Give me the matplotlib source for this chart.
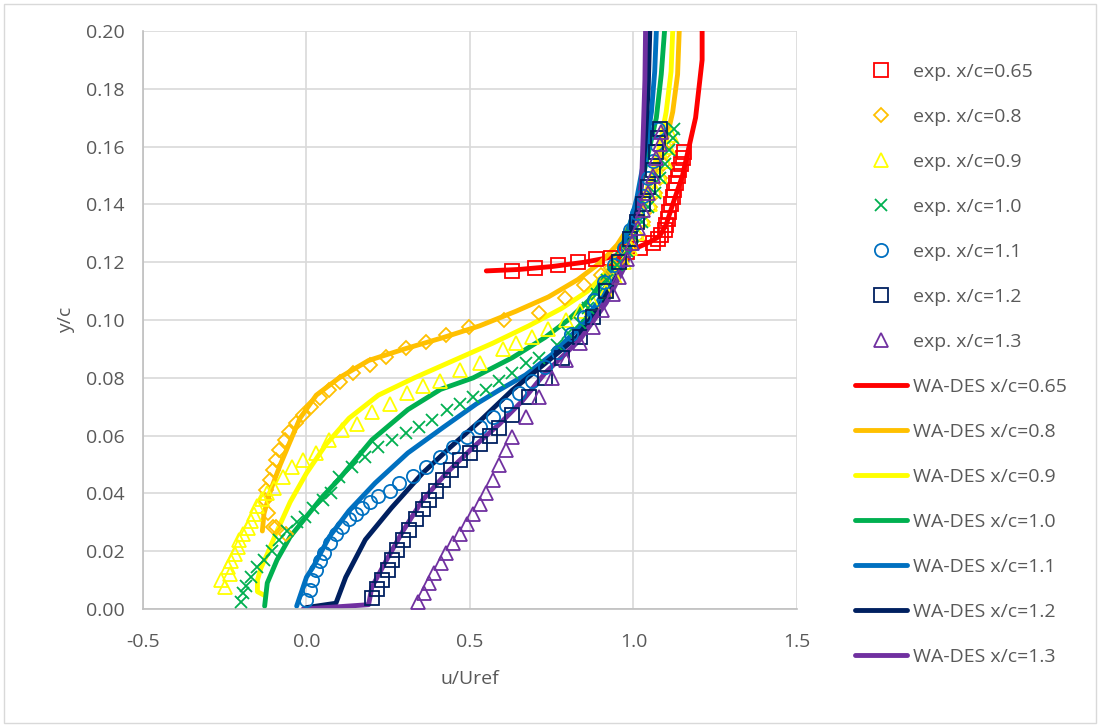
import matplotlib.pyplot as plt
from matplotlib.patches import Rectangle

plt.rcParams['font.family'] = ['Open Sans', 'DejaVu Sans']

# ---- datos experimentales (u/Uref, y/c) ----
exp065_u = [0.63, 0.70, 0.77, 0.83, 0.886, 0.93, 0.98, 1.02, 1.06, 1.075, 1.085, 1.095, 1.10, 1.105,
            1.11, 1.115, 1.12, 1.125, 1.13, 1.135, 1.14, 1.145, 1.15, 1.155]
exp065_y = [0.117, 0.118, 0.119, 0.120, 0.121, 0.1215, 0.1235, 0.125, 0.1265, 0.128, 0.1295, 0.131,
            0.133, 0.135, 0.1375, 0.140, 0.1425, 0.145, 0.1475, 0.150, 0.152, 0.154, 0.156, 0.158]

exp08_u = [-0.062, -0.093, -0.103, -0.118, -0.128, -0.123, -0.113, -0.103, -0.093, -0.083, -0.067,
           -0.052, -0.031, -0.011, 0.014, 0.040, 0.070, 0.101, 0.142, 0.193, 0.244, 0.305, 0.366,
           0.427, 0.498, 0.605, 0.71, 0.79, 0.85, 0.90, 0.93, 0.96, 0.99, 1.01, 1.03, 1.05, 1.065,
           1.08, 1.09, 1.10, 1.11]
exp08_y = [0.026, 0.0285, 0.0285, 0.0331, 0.0377, 0.0412, 0.0446, 0.0481, 0.0516, 0.055, 0.0585,
           0.0614, 0.0643, 0.0671, 0.070, 0.0729, 0.0758, 0.0787, 0.0816, 0.0844, 0.0873, 0.0902,
           0.0925, 0.0948, 0.0977, 0.100, 0.1025, 0.1076, 0.112, 0.1156, 0.118, 0.121, 0.125, 0.129,
           0.134, 0.139, 0.144, 0.149, 0.154, 0.158, 0.162]

exp09_u = [-0.25, -0.26, -0.235, -0.24, -0.23, -0.22, -0.21, -0.205, -0.195, -0.18, -0.17, -0.16,
           -0.15, -0.135, -0.12, -0.10, -0.073, -0.043, -0.012, 0.03, 0.07, 0.11, 0.153, 0.20, 0.254,
           0.306, 0.355, 0.407, 0.468, 0.53, 0.60, 0.64, 0.69, 0.74, 0.795, 0.835, 0.875, 0.917,
           0.945, 0.97, 0.99, 1.01, 1.03, 1.05, 1.065, 1.08, 1.095, 1.105, 1.115]
exp09_y = [0.0076, 0.010, 0.012, 0.0145, 0.0165, 0.019, 0.0215, 0.024, 0.026, 0.028, 0.0305, 0.033,
           0.0355, 0.038, 0.040, 0.042, 0.0457, 0.049, 0.0516, 0.054, 0.0585, 0.062, 0.064, 0.068,
           0.071, 0.0747, 0.077, 0.079, 0.0827, 0.085, 0.090, 0.092, 0.094, 0.097, 0.100, 0.103,
           0.106, 0.110, 0.115, 0.120, 0.125, 0.130, 0.135, 0.140, 0.145, 0.150, 0.155, 0.160, 0.164]

exp10_u = [-0.20, -0.195, -0.185, -0.17, -0.15, -0.13, -0.107, -0.083, -0.06, -0.03, -0.006, 0.02,
           0.05, 0.075, 0.10, 0.14, 0.18, 0.22, 0.26, 0.305, 0.345, 0.385, 0.43, 0.47, 0.51, 0.55,
           0.59, 0.63, 0.67, 0.71, 0.765, 0.80, 0.835, 0.86, 0.89, 0.92, 0.95, 0.98, 1.00, 1.025,
           1.045, 1.065, 1.08, 1.095, 1.11, 1.12, 1.125]
exp10_y = [0.0024, 0.0055, 0.008, 0.011, 0.0145, 0.017, 0.020, 0.024, 0.027, 0.030, 0.032, 0.035,
           0.0377, 0.040, 0.0457, 0.049, 0.0526, 0.056, 0.0585, 0.061, 0.063, 0.0654, 0.069, 0.071,
           0.0734, 0.0758, 0.079, 0.0817, 0.085, 0.087, 0.0913, 0.0955, 0.099, 0.104, 0.109, 0.114,
           0.119, 0.124, 0.129, 0.134, 0.139, 0.144, 0.149, 0.154, 0.159, 0.163, 0.166]

exp11_u = [0.0, 0.01, 0.018, 0.03, 0.042, 0.055, 0.072, 0.09, 0.11, 0.13, 0.15, 0.17, 0.195, 0.22,
           0.254, 0.284, 0.325, 0.367, 0.407, 0.447, 0.49, 0.53, 0.57, 0.61, 0.65, 0.69, 0.73, 0.77,
           0.81, 0.85, 0.88, 0.91, 0.94, 0.97, 0.99, 1.01, 1.03, 1.045, 1.06, 1.07, 1.075]
exp11_y = [0.003, 0.0065, 0.010, 0.0135, 0.0165, 0.0195, 0.023, 0.026, 0.0285, 0.031, 0.033, 0.035,
           0.037, 0.039, 0.041, 0.0436, 0.046, 0.049, 0.0526, 0.056, 0.0595, 0.063, 0.0664, 0.0705,
           0.0747, 0.079, 0.0837, 0.089, 0.095, 0.101, 0.107, 0.113, 0.119, 0.125, 0.131, 0.137,
           0.143, 0.149, 0.155, 0.161, 0.166]

exp12_u = [0.20, 0.216, 0.232, 0.248, 0.263, 0.278, 0.294, 0.315, 0.336, 0.356, 0.376, 0.396, 0.416,
           0.442, 0.468, 0.50, 0.53, 0.56, 0.59, 0.63, 0.68, 0.73, 0.78, 0.835, 0.875, 0.917, 0.957,
           0.99, 1.01, 1.03, 1.045, 1.06, 1.07, 1.075, 1.08]
exp12_y = [0.0038, 0.007, 0.010, 0.0135, 0.017, 0.0205, 0.024, 0.0275, 0.031, 0.0345, 0.0377, 0.041,
           0.0446, 0.048, 0.0516, 0.054, 0.057, 0.060, 0.0625, 0.067, 0.0735, 0.080, 0.087, 0.094,
           0.101, 0.110, 0.120, 0.128, 0.134, 0.140, 0.146, 0.152, 0.158, 0.163, 0.166]

exp13_u = [0.34, 0.36, 0.375, 0.39, 0.41, 0.428, 0.448, 0.468, 0.49, 0.51, 0.53, 0.55, 0.57, 0.59,
           0.61, 0.63, 0.67, 0.71, 0.75, 0.795, 0.835, 0.875, 0.905, 0.936, 0.957, 0.98, 0.997,
           1.015, 1.03, 1.045, 1.06, 1.07, 1.08, 1.085]
exp13_y = [0.0024, 0.0055, 0.009, 0.0125, 0.016, 0.0194, 0.0227, 0.026, 0.0295, 0.033, 0.0365,
           0.040, 0.0446, 0.050, 0.055, 0.0595, 0.0664, 0.0734, 0.080, 0.086, 0.092, 0.0976, 0.1035,
           0.109, 0.115, 0.121, 0.1266, 0.132, 0.138, 0.144, 0.150, 0.156, 0.161, 0.165]

# ---- WA-DES ----
des065_u = [0.55, 0.65, 0.75, 0.85, 0.92, 0.97, 1.01, 1.05, 1.08, 1.10, 1.12, 1.15, 1.17, 1.19,
            1.20, 1.21, 1.21]
des065_y = [0.117, 0.1175, 0.1185, 0.120, 0.1215, 0.123, 0.125, 0.127, 0.129, 0.133, 0.140, 0.150,
            0.160, 0.170, 0.180, 0.190, 0.200]
des08_u = [-0.135, -0.13, -0.11, -0.08, -0.05, -0.02, 0.03, 0.10, 0.19, 0.30, 0.42, 0.53, 0.64,
           0.74, 0.83, 0.90, 0.95, 0.99, 1.03, 1.07, 1.10, 1.12, 1.135, 1.14]
des08_y = [0.027, 0.033, 0.041, 0.050, 0.058, 0.066, 0.074, 0.080, 0.086, 0.090, 0.094, 0.098,
           0.103, 0.108, 0.114, 0.120, 0.126, 0.133, 0.142, 0.152, 0.162, 0.172, 0.185, 0.200]
des09_u = [-0.125, -0.15, -0.15, -0.14, -0.12, -0.09, -0.05, 0.00, 0.06, 0.13, 0.22, 0.33, 0.45,
           0.57, 0.68, 0.78, 0.86, 0.92, 0.97, 1.01, 1.05, 1.08, 1.10, 1.115, 1.12]
des09_y = [0.0045, 0.006, 0.010, 0.014, 0.019, 0.027, 0.037, 0.047, 0.057, 0.066, 0.074, 0.080,
           0.086, 0.092, 0.098, 0.104, 0.110, 0.117, 0.126, 0.136, 0.148, 0.160, 0.172, 0.186, 0.200]
des10_u = [-0.128, -0.12, -0.09, -0.05, 0.00, 0.05, 0.10, 0.20, 0.31, 0.41, 0.51, 0.63, 0.73, 0.80,
           0.865, 0.92, 0.97, 1.01, 1.04, 1.07, 1.085, 1.095]
des10_y = [0.001, 0.009, 0.017, 0.025, 0.032, 0.039, 0.045, 0.0585, 0.069, 0.076, 0.080, 0.087,
           0.094, 0.100, 0.107, 0.116, 0.127, 0.140, 0.155, 0.170, 0.185, 0.200]
des11_u = [-0.03, -0.015, 0.0, 0.02, 0.07, 0.13, 0.21, 0.31, 0.42, 0.52, 0.59, 0.67, 0.75, 0.83,
           0.89, 0.94, 0.98, 1.01, 1.035, 1.055, 1.065, 1.07]
des11_y = [0.001, 0.006, 0.011, 0.0145, 0.025, 0.034, 0.0436, 0.054, 0.063, 0.071, 0.0758, 0.081,
           0.088, 0.097, 0.106, 0.117, 0.129, 0.142, 0.157, 0.172, 0.186, 0.200]
des12_u = [0.0, 0.09, 0.12, 0.18, 0.26, 0.355, 0.44, 0.53, 0.63, 0.73, 0.826, 0.896, 0.948, 0.99,
           1.02, 1.035, 1.045, 1.05]
des12_y = [0.0005, 0.002, 0.011, 0.024, 0.035, 0.047, 0.056, 0.065, 0.0758, 0.085, 0.094, 0.1045,
           0.115, 0.128, 0.142, 0.160, 0.180, 0.200]
des13_u = [-0.01, 0.10, 0.19, 0.20, 0.245, 0.295, 0.355, 0.428, 0.51, 0.59, 0.66, 0.73, 0.835,
           0.917, 0.98, 1.01, 1.025, 1.03, 1.035, 1.037]
des13_y = [0.0, 0.0008, 0.0015, 0.0076, 0.017, 0.027, 0.0377, 0.047, 0.056, 0.064, 0.072, 0.0817,
           0.093, 0.106, 0.12, 0.133, 0.148, 0.165, 0.183, 0.200]

estaciones = ['0.65', '0.8', '0.9', '1.0', '1.1', '1.2', '1.3']
colores = ['#FF0000', '#FFC000', '#FFFF00', '#00B050', '#0070C0', '#002060', '#7030A0']
marcadores = ['s', 'D', '^', 'x', 'o', 's', '^']
tam_marc = [10, 7.5, 10, 9, 9.5, 10, 10]

exp_u = [exp065_u, exp08_u, exp09_u, exp10_u, exp11_u, exp12_u, exp13_u]
exp_y = [exp065_y, exp08_y, exp09_y, exp10_y, exp11_y, exp12_y, exp13_y]
des_u = [des065_u, des08_u, des09_u, des10_u, des11_u, des12_u, des13_u]
des_y = [des065_y, des08_y, des09_y, des10_y, des11_y, des12_y, des13_y]

gris = '#595959'
fs = 14
fig = plt.figure(figsize=(11, 7.27), dpi=100)
ax = fig.add_axes([0.130, 0.1623, 0.5945, 0.7950])

handles_exp = []
handles_des = []
for i in range(7):
    h, = ax.plot(des_u[i], des_y[i], color=colores[i], lw=3.5, zorder=2,
                 solid_capstyle='round', label='WA-DES x/c=' + estaciones[i])
    handles_des.append(h)
for i in range(7):
    h, = ax.plot(exp_u[i], exp_y[i], ls='none', marker=marcadores[i], ms=tam_marc[i],
                 mfc='none', mec=colores[i], mew=1.3, zorder=3,
                 label='exp. x/c=' + estaciones[i])
    handles_exp.append(h)

ax.set_xlim(-0.5, 1.5)
ax.set_ylim(0, 0.2)
ax.set_xticks([-0.5, 0.0, 0.5, 1.0, 1.5])
ax.set_xticklabels(['-0.5', '0.0', '0.5', '1.0', '1.5'])
ax.set_yticks([i * 0.02 for i in range(11)])
ax.set_yticklabels(['%.2f' % (i * 0.02) for i in range(11)])
ax.grid(True, color='#D9D9D9', lw=1.2)
ax.set_axisbelow(True)
for s in ['top', 'right']:
    ax.spines[s].set_visible(False)
for s in ['left', 'bottom']:
    ax.spines[s].set_color('#BFBFBF')
    ax.spines[s].set_linewidth(1.2)
ax.tick_params(axis='y', length=0, labelsize=fs, labelcolor=gris, pad=13)
ax.tick_params(axis='x', length=0, labelsize=fs, labelcolor=gris, pad=17)
ax.set_xlabel('u/Uref', fontsize=fs, color=gris, labelpad=14)
ax.set_ylabel('y/c', fontsize=fs, color=gris, labelpad=8)

fig.legend(handles=handles_exp + handles_des, loc='upper left', bbox_to_anchor=(0.777, 0.914),
           frameon=False, fontsize=fs, labelcolor=gris, handlelength=2.7, handletextpad=0.3,
           labelspacing=1.39, borderpad=0, borderaxespad=0)

fig.patches.append(Rectangle((0.004, 0.006), 0.992, 0.988, transform=fig.transFigure,
                             fill=False, edgecolor='#D9D9D9', lw=1))

plt.savefig('out.png', dpi=100)
